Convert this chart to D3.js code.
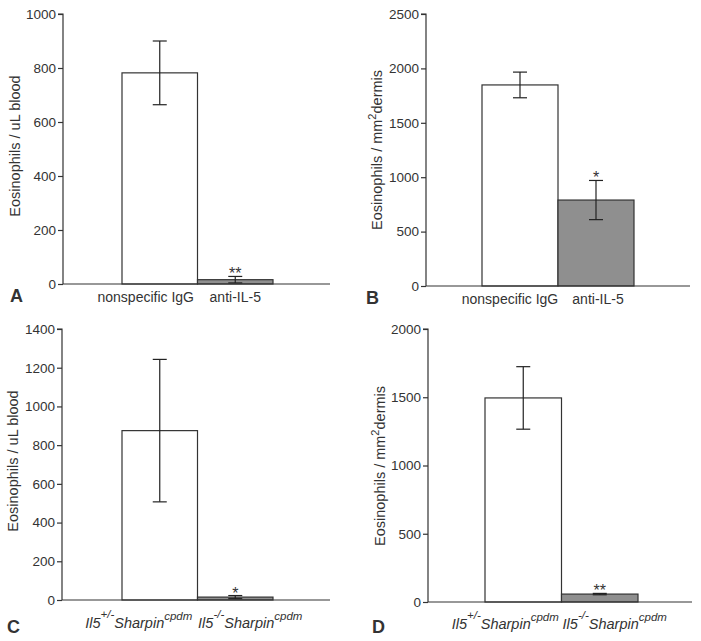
<!DOCTYPE html>
<html><head><meta charset="utf-8">
<script src="https://cdn.jsdelivr.net/npm/d3@7/dist/d3.min.js"></script>
<style>body{margin:0;background:#fff}text{font-family:"Liberation Sans",Arial,sans-serif;fill:#333}</style>
</head><body>
<svg id="c" width="701" height="641"></svg>
<script>
// Data
const catsAB = ["nonspecific IgG", "anti-IL-5"];
const catsCD = ["Il5+/-", "Il5-/-"];
const meanA = [782, 16];  const errA = [118, 12];
const meanB = [1848, 790]; const errB = [118, 180];
const meanC = [875, 15];  const errC = [368, 8];
const meanD = [1495, 58]; const errD = [229, 5];
const sigA = ["", "**"], sigB = ["", "*"], sigC = ["", "*"], sigD = ["", "**"];
const ticksA = [0, 200, 400, 600, 800, 1000];
const ticksB = [0, 500, 1000, 1500, 2000, 2500];
const ticksC = [0, 200, 400, 600, 800, 1000, 1200, 1400];
const ticksD = [0, 500, 1000, 1500, 2000];
const fills = ["#ffffff", "#8f8f8f"];

const svg = d3.select("#c");
const panels = [
  {letter:"A", cats:catsAB, mean:meanA, err:errA, sig:sigA, ticks:ticksA, ylab:"Eosinophils / uL blood", sup:false,
   ax:63, yT:14, y0:284, xE:330, b0:122, b1:273, labX:20, labY:146, lx:10, ly:302, catY:302, dx:[-14,0], geno:false},
  {letter:"B", cats:catsAB, mean:meanB, err:errB, sig:sigB, ticks:ticksB, ylab:"Eosinophils / mm", sup:true,
   ax:426, yT:14, y0:286, xE:690, b0:482, b1:634, labX:382, labY:150, lx:366, ly:304, catY:304, dx:[-10,2], geno:false},
  {letter:"C", cats:catsCD, mean:meanC, err:errC, sig:sigC, ticks:ticksC, ylab:"Eosinophils / uL blood", sup:false,
   ax:62, yT:329, y0:600, xE:330, b0:122, b1:273, labX:18, labY:461, lx:7, ly:633, catY:628, dx:[-21,15], geno:true},
  {letter:"D", cats:catsCD, mean:meanD, err:errD, sig:sigD, ticks:ticksD, ylab:"Eosinophils / mm", sup:true,
   ax:428, yT:329, y0:602, xE:692, b0:485, b1:638, labX:385, labY:466, lx:372, ly:633, catY:629, dx:[-18,15], geno:true}
];

panels.forEach(p => {
  const g = svg.append("g");
  const y = d3.scaleLinear().domain([0, p.ticks[p.ticks.length-1]]).range([p.y0, p.yT]);
  const x = d3.scaleBand().domain(p.cats).range([p.b0, p.b1]).padding(0);

  g.selectAll("rect.bar").data(p.cats).enter().append("rect")
    .attr("x", d => x(d)).attr("width", x.bandwidth())
    .attr("y", (d,i) => y(p.mean[i])).attr("height", (d,i) => p.y0 - y(p.mean[i]))
    .attr("fill", (d,i) => fills[i]).attr("stroke", "#333").attr("stroke-width", 1.2);

  p.cats.forEach((c,i) => {
    const cx = x(c) + x.bandwidth()/2;
    const hi = y(p.mean[i] + p.err[i]), lo = y(p.mean[i] - p.err[i]);
    g.append("line").attr("x1", cx).attr("x2", cx).attr("y1", hi).attr("y2", lo).attr("stroke","#222").attr("stroke-width",1.2);
    [hi, lo].forEach(yy => g.append("line").attr("x1", cx-7).attr("x2", cx+7).attr("y1", yy).attr("y2", yy).attr("stroke","#222").attr("stroke-width",1.2));
    if (p.sig[i]) g.append("text").attr("x", cx).attr("y", hi + 3).attr("text-anchor","middle")
      .style("font-size","16px").text(p.sig[i]);
  });

  const yAxis = d3.axisLeft(y).tickValues(p.ticks).tickSize(5).tickPadding(2).tickFormat(d3.format("d"));
  const ga = g.append("g").attr("transform", `translate(${p.ax},0)`).call(yAxis);
  ga.select(".domain").attr("stroke","#333").attr("stroke-width",1.2).attr("d", `M-5,${p.yT}H0V${p.y0}`);
  ga.selectAll(".tick line").attr("stroke","#333").attr("stroke-width",1.2);
  ga.selectAll(".tick text").style("font-size","13.5px").style("font-family","'Liberation Sans',Arial,sans-serif").attr("fill","#333");
  g.append("line").attr("x1", p.ax).attr("x2", p.xE).attr("y1", p.y0).attr("y2", p.y0).attr("stroke","#333").attr("stroke-width",1.2);

  const yl = g.append("text").attr("transform", `translate(${p.labX},${p.labY}) rotate(-90)`)
    .attr("text-anchor","middle").style("font-size","14.5px");
  yl.append("tspan").text(p.ylab);
  if (p.sup) {
    yl.append("tspan").attr("dy", -6).style("font-size","11px").text("2");
    yl.append("tspan").attr("dy", 6).text("dermis");
  }

  p.cats.forEach((c,i) => {
    const cx = x(c) + x.bandwidth()/2 + p.dx[i];
    const t = g.append("text").attr("x", cx).attr("y", p.catY).attr("text-anchor","middle").style("font-size","14px");
    if (!p.geno) { t.text(c); }
    else {
      t.style("font-style","italic").style("font-size","14.5px");
      t.append("tspan").text("Il5");
      t.append("tspan").attr("dy", -10).style("font-size","11.5px").text(c.slice(3));
      t.append("tspan").attr("dy", 10).text("Sharpin");
      t.append("tspan").attr("dy", -8).style("font-size","11.5px").text("cpdm");
    }
  });

  g.append("text").attr("x", p.lx).attr("y", p.ly).style("font-size","18px").style("font-weight","bold")
    .attr("fill","#111").text(p.letter);
});
</script>
</body></html>
